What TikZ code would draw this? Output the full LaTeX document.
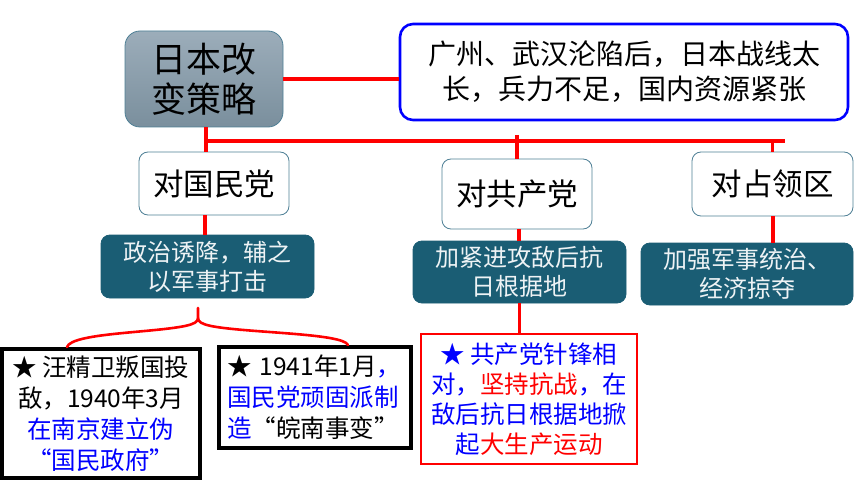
\documentclass[tikz,border=0pt]{standalone}
\usepackage{fontspec}
\setmainfont{Noto Sans CJK SC}
\usetikzlibrary{calc}
\definecolor{darkteal}{HTML}{1A5D74}
\definecolor{tealedge}{HTML}{4F8096}
\definecolor{gtop}{HTML}{9CADBA}
\definecolor{gbot}{HTML}{7A8F9D}
\definecolor{lighttext}{HTML}{EEF3F5}
\definecolor{pblue}{HTML}{0000FF}
\definecolor{pred}{HTML}{FF0000}
\tikzset{
  mainbox/.style={draw=tealedge, line width=0.8pt, rounded corners=15pt, top color=gtop, bottom color=gbot, align=center, inner sep=0pt, font=\fontsize{35}{40}\selectfont},
  causebox/.style={draw=pblue, line width=2.6pt, rounded corners=13pt, fill=white, align=center, inner sep=0pt, font=\fontsize{28}{35}\selectfont},
  targetbox/.style={draw=tealedge, line width=0.8pt, rounded corners=9pt, fill=white, align=center, inner sep=0pt, font=\fontsize{30.5}{34}\selectfont},
  policybox/.style={draw=darkteal, line width=0.8pt, rounded corners=9pt, fill=darkteal, text=lighttext, align=center, inner sep=0pt, font=\fontsize{24}{29}\selectfont},
  eventbox/.style={draw=black, line width=4pt, fill=white, inner sep=0pt, font=\fontsize{24.5}{31}\selectfont},
  cpcbox/.style={draw=pred, line width=2.6pt, fill=white, align=center, inner sep=0pt, font=\fontsize{24.5}{30}\selectfont},
  link/.style={draw=pred, line width=3.8pt},
  bracelink/.style={draw=pred, line width=2.6pt, line cap=round}
}
\begin{document}
\begin{tikzpicture}[x=1pt,y=-1pt]
\useasboundingbox (0,0) rectangle (860,484);
\fill[white] (0,0) rectangle (860,484);

\node[mainbox, minimum width=158pt, minimum height=96pt] (main) at (204,79) {日本改\\变策略};
\node[causebox, minimum width=448pt, minimum height=96pt] (cause) at (624,72) {广州、武汉沦陷后，日本战线太\\长，兵力不足，国内资源紧张};

\node[targetbox, minimum width=150pt, minimum height=63pt] (gmd) at (214,183.5) {对国民党};
\node[targetbox, minimum width=150pt, minimum height=70pt] (gcd) at (517,194) {对共产党};
\node[targetbox, minimum width=161pt, minimum height=64pt] (zlq) at (772.5,184) {对占领区};

\node[policybox, minimum width=213pt, minimum height=63pt] (zz) at (207.5,266.5) {政治诱降，辅之\\以军事打击};
\node[policybox, minimum width=213pt, minimum height=62pt] (jj) at (519.5,272) {加紧进攻敌后抗\\日根据地};
\node[policybox, minimum width=212pt, minimum height=62pt] (jq) at (747,274) {加强军事统治、\\经济掠夺};

\node[eventbox, align=center, minimum width=198pt, minimum height=129pt] (wjw) at (101,413.5) {★ 汪精卫叛国投\\敌，1940年3月\\\textcolor{pblue}{在南京建立伪}\\\textcolor{pblue}{“国民政府”}};
\node[eventbox, align=left, minimum width=192pt, minimum height=101pt, text width=176pt] (wn) at (315,397.5) {★ 1941年1月\textcolor{pblue}{，}\\\textcolor{pblue}{国民党顽固派制}\\\textcolor{pblue}{造}“皖南事变”};
\node[cpcbox, minimum width=216pt, minimum height=130pt, text=pblue] (cpc) at (529,399) {★ 共产党针锋相\\对，\textcolor{pred}{坚持抗战}，在\\敌后抗日根据地掀\\起\textcolor{pred}{大生产运动}};

% connectors
\coordinate (b0) at (206,141);
\coordinate (b1) at (785,141);
\coordinate (t1) at (517,135);
\path[link] (main.east) -- (main.east -| cause.west);
\path[link] (main.south -| b0) -- (gmd.north -| b0);
\path[link] ([xshift=-1.9pt]b0) -- (b1);
\path[link] (t1) -- (gcd.north);
\path[link] (b1 -| zlq.north) -- (zlq.north);
\path[link] (gmd.south -| 205,0) -- (zz.north -| 205,0);
\path[link] (gcd.south -| 519,0) -- (jj.north -| 519,0);
\path[link] (zlq.south -| 773,0) -- (jq.north -| 773,0);
\path[link] (jj.south) -- (cpc.north -| jj.south);

% brace
\coordinate (bt) at (198,308);
\coordinate (bl) at (67,0);
\coordinate (br) at (348,0);
\path[bracelink] (bl |- wjw.north) .. controls (72,333) and (150,333) .. (185,326)
  .. controls (194,324) and (198,322) .. (198,318) -- (bt);
\path[bracelink] (br |- wn.north) .. controls (343,333) and (246,333) .. (211,326)
  .. controls (202,324) and (198,322) .. (198,318);
\end{tikzpicture}
\end{document}
